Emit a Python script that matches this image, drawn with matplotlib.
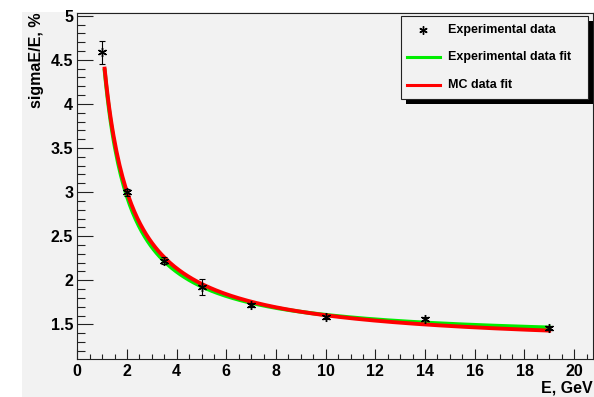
import matplotlib
matplotlib.use("Agg")
import matplotlib.pyplot as plt
import numpy as np
from matplotlib.lines import Line2D
from matplotlib.patches import Rectangle
from matplotlib.ticker import MultipleLocator

plt.rcParams["font.family"] = ["Liberation Sans", "DejaVu Sans"]
plt.rcParams["font.weight"] = "bold"

# measured resolution points
energy = [1, 2, 3.5, 5, 7, 10, 14, 19]
resolution = [4.585, 3.0, 2.222, 1.925, 1.72, 1.58, 1.565, 1.458]
resolution_err = [0.13, 0.04, 0.04, 0.095, 0.02, 0.015, 0.02, 0.02]

# fit parameters for p0/E + p1/sqrt(E) + p2
exp_fit = [3.736, -0.393, 1.359]
mc_fit = [3.296, 0.203, 1.210]
fit_range = [1.1, 19.0]

BG = "#f2f2f2"


def fit_curve(p, e):
    return p[0] / e + p[1] / np.sqrt(e) + p[2]


fig = plt.figure(figsize=(5.94, 3.97), dpi=100)
fig.patch.set_facecolor("white")
fig.patches.append(Rectangle((22 / 594, 0), 1, 1 - 12 / 397, transform=fig.transFigure,
                             facecolor=BG, edgecolor="none", zorder=-10))

ax = fig.add_axes([77.3 / 594, 1 - 359 / 397, (593 - 77.3) / 594, (359 - 12.7) / 397])
ax.set_facecolor(BG)

e = np.linspace(fit_range[0], fit_range[1], 300)
ax.plot(e, fit_curve(exp_fit, e), color="#00ee00", linewidth=2.8, zorder=2)
ax.plot(e, fit_curve(mc_fit, e), color="#ff0000", linewidth=2.8, zorder=3)
ax.errorbar(energy, resolution, yerr=resolution_err, fmt="none", ecolor="black",
            elinewidth=0.8, capsize=2.5, capthick=0.8, zorder=4)
ax.plot(energy, resolution, linestyle="", marker=(6, 2, 0), markersize=6.5,
        markeredgewidth=1.0, color="black", zorder=5)

ax.set_xlim(0, 20.76)
ax.set_ylim(1.108, 5.034)
ax.xaxis.set_major_locator(MultipleLocator(2))
ax.xaxis.set_minor_locator(MultipleLocator(0.5))
ax.yaxis.set_major_locator(MultipleLocator(0.5))
ax.yaxis.set_minor_locator(MultipleLocator(0.1))
ax.yaxis.set_major_formatter(matplotlib.ticker.FuncFormatter(lambda v, _: f"{v:g}"))
ax.tick_params(which="both", direction="in", top=False, right=False, width=0.8, color="#222222")
ax.tick_params(axis="y", which="major", length=11.3, pad=3, labelsize=11.5)
ax.tick_params(axis="y", which="minor", length=5.8)
ax.tick_params(axis="x", which="major", length=7.2, pad=3.5, labelsize=11.5)
ax.tick_params(axis="x", which="minor", length=3.6)
for s in ax.spines.values():
    s.set_linewidth(0.8)
    s.set_color("#222222")

fig.text(37 / 594, 1 - 13 / 397, "sigmaE/E, %", rotation=90, ha="center", va="top",
         fontsize=11.5, fontweight="bold")
fig.text(593 / 594, 1 - 388 / 397, "E, GeV", ha="right", va="center",
         fontsize=11.5, fontweight="bold")

# legend box with drop shadow
lx0, lx1, ly0, ly1 = 400.7, 588, 16, 98.7
fig.patches.append(Rectangle((lx0 / 594 + 5 / 594, 1 - (ly1 + 5) / 397), (lx1 - lx0) / 594, (ly1 - ly0) / 397,
                             transform=fig.transFigure, facecolor="black", edgecolor="none", zorder=8))
fig.patches.append(Rectangle((lx0 / 594, 1 - ly1 / 397), (lx1 - lx0) / 594, (ly1 - ly0) / 397,
                             transform=fig.transFigure, facecolor=BG, edgecolor="#222222",
                             linewidth=0.8, zorder=9))
rows = [30, 57, 85]
labels = ["Experimental data", "Experimental data fit", "MC data fit"]
fig.lines.append(Line2D([423 / 594], [1 - rows[0] / 397], transform=fig.transFigure, linestyle="",
                        marker=(6, 2, 0), markersize=6, markeredgewidth=1.0, color="black", zorder=10))
for y, c in zip(rows[1:], ["#00ee00", "#ff0000"]):
    fig.lines.append(Line2D([407 / 594, 440 / 594], [1 - y / 397] * 2, transform=fig.transFigure,
                            color=c, linewidth=2.2, zorder=10))
for y, t in zip(rows, labels):
    fig.text(448 / 594, 1 - y / 397, t, ha="left", va="center", fontsize=9, fontweight="bold", zorder=10)

fig.savefig("out.png", dpi=100)
